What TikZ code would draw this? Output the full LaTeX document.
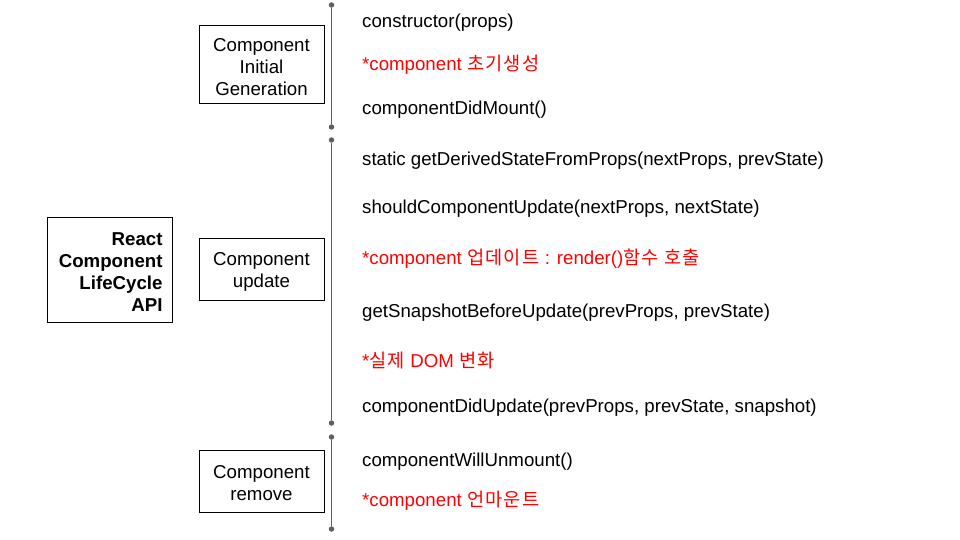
\documentclass[tikz,border=0pt]{standalone}
\usepackage{fontspec}
\setmainfont{Liberation Sans}
\newfontfamily\krfont[LetterSpace=7]{Noto Sans CJK KR}
\definecolor{linegray}{HTML}{5F5F5F}
\definecolor{kred}{HTML}{FF0000}
\begin{document}
\begin{tikzpicture}[x=1pt,y=-1pt,
  every node/.style={font=\fontsize{18.67}{21.5}\selectfont, inner sep=0pt},
  box/.style={draw=black, line width=1pt, minimum width=125pt},
  boxtext/.style={align=center, yshift=-2.5pt, font=\fontsize{18.67}{22}\selectfont},
  item/.style={anchor=base west, text=black},
  note/.style={anchor=base west, text=kred},
  tl/.style={draw=linegray, line width=1.6pt},
  dot/.style={circle, fill=linegray, minimum size=5.5pt, inner sep=0pt}]
\useasboundingbox (0,0) rectangle (960,540);

\node[box, minimum height=105pt] (react) at (109.5,269.5) {};
\node[boxtext, align=right, text width=106pt, font=\fontsize{18.67}{22}\selectfont\bfseries] (reacttext) at (react.center) {React\\Component\\LifeCycle\\API};
\node[box, minimum height=78pt] (init) at (261.5,65) {};
\node[boxtext] (inittext) at (init.center) {Component\\Initial\\Generation};
\node[box, minimum height=62pt] (upd) at (261.5,269) {};
\node[boxtext] (updtext) at (upd.center) {Component\\update};
\node[box, minimum height=62pt] (rem) at (261.5,481) {};
\node[boxtext] (remtext) at (rem.center) {Component\\remove};

\node[dot] (a1) at (331.5,5) {};
\node[dot] (a2) at (331.5,127) {};
\node[dot] (b1) at (331.5,140) {};
\node[dot] (b2) at (331.5,423) {};
\node[dot] (c1) at (331.5,437) {};
\node[dot] (c2) at (331.5,529) {};
\draw[tl] (a1) -- (a2);
\draw[tl] (b1) -- (b2);
\draw[tl] (c1) -- (c2);

\node[item] (t1) at (362,28) {constructor(props)};
\node[note] (t2) at (362,71) {*component {\krfont 초기생성}};
\node[item] (t3) at (362,115) {componentDidMount()};
\node[item] (t4) at (362,165) {static getDerivedStateFromProps(nextProps, prevState)};
\node[item] (t5) at (362,213) {shouldComponentUpdate(nextProps, nextState)};
\node[note] (t6) at (362,264) {*component {\krfont 업데이트} : render(){\krfont 함수 호출}};
\node[item] (t7) at (362,317) {getSnapshotBeforeUpdate(prevProps, prevState)};
\node[note] (t8) at (362,367) {*{\krfont 실제} DOM {\krfont 변화}};
\node[item] (t9) at (362,412) {componentDidUpdate(prevProps, prevState, snapshot)};
\node[item] (t10) at (362,466) {componentWillUnmount()};
\node[note] (t11) at (362,506) {*component {\krfont 언마운트}};
\end{tikzpicture}
\end{document}
